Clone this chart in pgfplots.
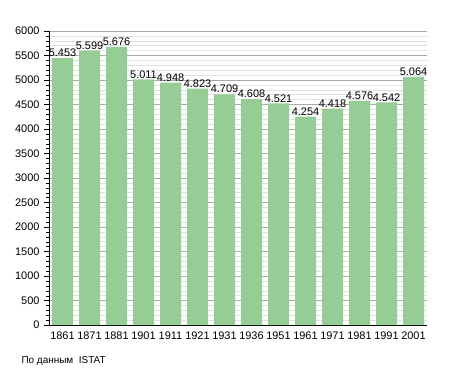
\documentclass[border=0pt]{standalone}
\usepackage{pgfplots}
\pgfplotsset{compat=1.18}
\usepackage{pgfplotstable}
\usepackage{fontspec}
\setmainfont{Liberation Sans}
\definecolor{bargreen}{RGB}{150,205,150}
\definecolor{minorgrid}{RGB}{225,225,225}
\definecolor{majorgrid}{RGB}{170,170,170}
\pgfplotstableread{
x y lab
0 5453 5.453
1 5599 5.599
2 5676 5.676
3 5011 5.011
4 4948 4.948
5 4823 4.823
6 4709 4.709
7 4608 4.608
8 4521 4.521
9 4254 4.254
10 4418 4.418
11 4576 4.576
12 4542 4.542
13 5064 5.064
}\datatable
\begin{document}
\begin{tikzpicture}
\path[use as bounding box] (-49bp,-48bp) rectangle (406bp,325bp);
\begin{axis}[
  at={(0,0)}, anchor=south west,
  scale only axis, width=378bp, height=294bp,
  xmin=-0.5, xmax=13.5, ymin=0, ymax=6000,
  axis lines=left, axis line style={-, black},
  ytick={0,500,...,6000},
  minor y tick num=4,
  ymajorgrids, yminorgrids,
  major grid style={majorgrid, line width=0.5pt},
  minor grid style={minorgrid, line width=0.4pt},
  xtick=data,
  xticklabels={1861,1871,1881,1901,1911,1921,1931,1936,1951,1961,1971,1981,1991,2001},
  x tick style={draw=none},
  y tick style={black},
  tick align=outside,
  major tick length=5bp, minor tick length=3bp,
  tick label style={font=\fontsize{11}{13}\selectfont},
  /pgf/number format/assume math mode=true,
  /pgf/number format/1000 sep={},
  xticklabel style={yshift=2bp},
  yticklabel style={xshift=-1bp},
  ybar, bar width=21bp,
  nodes near coords,
  point meta=explicit symbolic,
  every node near coord/.append style={font=\fontsize{11}{13}\selectfont, inner sep=1bp, yshift=0bp},
  clip=false,
]
\addplot[fill=bargreen, draw=none] table[x=x, y=y, meta=lab] {\datatable};
\end{axis}
\node[anchor=base west, font=\fontsize{10}{12}\selectfont] at (-31bp,-38bp) {По данным\ \ ISTAT};
\end{tikzpicture}
\end{document}
